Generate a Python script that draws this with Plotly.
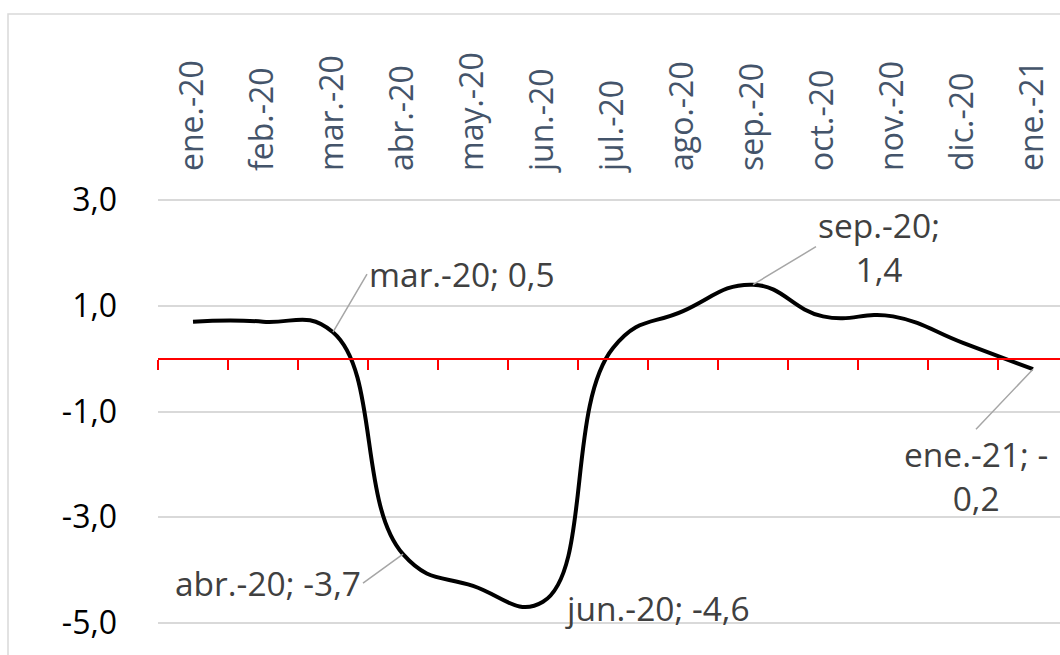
import plotly.graph_objects as go

categories = ['ene.-20', 'feb.-20', 'mar.-20', 'abr.-20', 'may.-20', 'jun.-20', 'jul.-20',
              'ago.-20', 'sep.-20', 'oct.-20', 'nov.-20', 'dic.-20', 'ene.-21']
values = [0.7, 0.7, 0.5, -3.7, -4.3, -4.6, 0.2, 0.9, 1.4, 0.8, 0.8, 0.3, -0.2]
y_ticks = [-5, -3, -1, 1, 3]

W, H = 1060, 655
ML, MT, MB = 158, 198, 30
plot_w = W - ML
plot_h = H - MT - MB
cat_px = 70.0

idx = list(range(len(categories)))
x_range = [-0.5, -0.5 + plot_w / cat_px]
y_range = [-5.04, 3.04]


def fmt(v):
    return f"{v:.1f}".replace('.', ',')


fig = go.Figure()
fig.add_trace(go.Scatter(
    x=idx, y=values, mode='lines',
    line=dict(color='black', width=4, shape='spline', smoothing=1.3),
    hoverinfo='skip', showlegend=False, xaxis='x', yaxis='y'))
# invisible trace so the zero-axis renders
fig.add_trace(go.Scatter(
    x=idx, y=values, mode='markers', marker=dict(opacity=0),
    hoverinfo='skip', showlegend=False, xaxis='x2', yaxis='y'))

font_name = 'Open Sans'

fig.update_layout(
    width=W, height=H,
    margin=dict(l=ML, r=0, t=MT, b=MB, pad=0, autoexpand=False),
    paper_bgcolor='white', plot_bgcolor='white',
    xaxis=dict(
        range=x_range, side='top', tickmode='array', tickvals=idx, ticktext=categories,
        tickangle=-90, tickfont=dict(family=font_name, size=32, color='#44546A'),
        showgrid=False, showline=False, zeroline=False, ticks='',
        ticklabelstandoff=26, automargin=False),
    xaxis2=dict(
        range=x_range, overlaying='x', anchor='free',
        position=(0 - y_range[0]) / (y_range[1] - y_range[0]), side='bottom',
        tickmode='array', tickvals=[i - 0.5 for i in range(len(categories) + 1)],
        ticks='outside', ticklen=10, tickwidth=2, tickcolor='#FF0000',
        showline=True, linecolor='#FF0000', linewidth=2,
        showticklabels=False, showgrid=False, zeroline=False, automargin=False),
    yaxis=dict(
        range=y_range, tickmode='array', tickvals=y_ticks,
        ticktext=[fmt(v) for v in y_ticks],
        tickfont=dict(family=font_name, size=32, color='#000000'),
        showgrid=True, gridcolor='#D9D9D9', gridwidth=1.5,
        zeroline=False, showline=False, ticks='', ticklabelstandoff=40,
        automargin=False),
)

# chart-area border
bx0 = (8 - ML) / plot_w
by1 = (H - MB - 14) / plot_h
fig.add_shape(type='rect', xref='paper', yref='paper', x0=bx0, x1=1.2, y0=-0.5, y1=by1,
              line=dict(color='#D9D9D9', width=1.5), fillcolor='rgba(0,0,0,0)', layer='below')

ann_font = dict(family=font_name, size=33.5, color='#404040')
arrow = dict(showarrow=True, arrowhead=0, arrowwidth=1.5, arrowcolor='#A6A6A6')

# mar.-20
i = 2
fig.add_annotation(x=idx[i], y=values[i], text=f"{categories[i]}; {fmt(values[i])}",
                   ax=34, ay=-58, xanchor='left', yanchor='middle', font=ann_font, **arrow)
# abr.-20
i = 3
fig.add_annotation(x=idx[i], y=values[i], text=f"{categories[i]}; {fmt(values[i])}",
                   ax=-40, ay=29, xanchor='right', yanchor='middle', font=ann_font, **arrow)
# jun.-20
i = 5
fig.add_annotation(x=idx[i], y=values[i], text=f"{categories[i]}; {fmt(values[i])}",
                   showarrow=False, xanchor='left', yanchor='middle', xshift=20, yshift=-6,
                   font=ann_font)
# sep.-20
i = 8
fig.add_annotation(x=idx[i], y=values[i], text=f"{categories[i]};<br>{fmt(values[i])}",
                   ax=63, ay=-38, xanchor='left', yanchor='middle', font=ann_font, **arrow)
# ene.-21
i = 12
v = fmt(values[i])
fig.add_annotation(x=idx[i], y=values[i], text=f"{categories[i]}; {v[0]}<br>{v[1:]}",
                   ax=-57, ay=60, xanchor='center', yanchor='top', font=ann_font, **arrow)

fig.write_html("out.html", config={'displayModeBar': False},
               post_script="document.body.style.margin='0';document.body.style.overflow='hidden';")
